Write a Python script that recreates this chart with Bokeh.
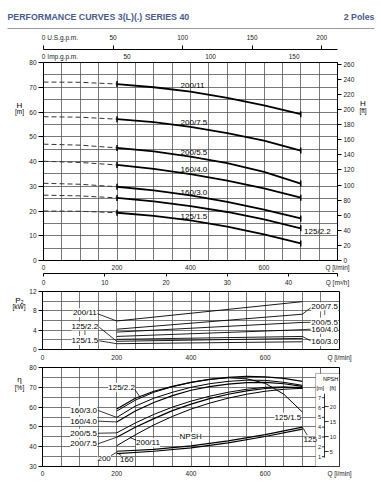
from bokeh.plotting import figure
from bokeh.models import Range1d, LinearAxis, FixedTicker, BoxAnnotation
from bokeh.layouts import column, row
from bokeh.embed import file_html
from bokeh.resources import INLINE
from bokeh.core.properties import value

# ---------------- data ----------------
Q_DASH = [0, 100, 200]
Q_SOLID = [200, 300, 400, 500, 600, 700]

H_200_11_DASH = [72.1, 72.0, 71.3]
H_200_11 = [71.3, 70.0, 68.2, 65.7, 62.7, 59.1]
H_200_75_DASH = [58.1, 57.9, 57.1]
H_200_75 = [57.1, 55.9, 54.0, 51.5, 48.4, 44.4]
H_200_55_DASH = [47.0, 46.6, 45.5]
H_200_55 = [45.5, 44.1, 42.0, 39.3, 35.8, 31.1]
H_160_40_DASH = [40.1, 39.6, 38.6]
H_160_40 = [38.6, 37.0, 34.9, 32.3, 29.1, 25.4]
H_160_30_DASH = [31.2, 30.8, 29.8]
H_160_30 = [29.8, 28.3, 26.3, 23.7, 20.6, 17.0]
H_125_22_DASH = [26.4, 26.1, 25.3]
H_125_22 = [25.3, 23.9, 22.0, 19.6, 16.6, 13.0]
H_125_15_DASH = [20.0, 19.9, 19.3]
H_125_15 = [19.3, 18.0, 16.2, 13.7, 10.6, 6.9]

Q_POWER = [200, 700]
P_200_11 = [5.9, 9.9]
P_200_75 = [4.2, 7.3]
P_200_55 = [3.6, 5.6]
P_160_40 = [2.7, 4.1]
P_160_30 = [2.1, 2.7]
P_125_22 = [1.7, 2.3]
P_125_15 = [1.2, 1.6]

Q_EFF = [200, 250, 300, 350, 400, 450, 500, 550, 600, 650, 700]
E_125_22 = [59.0, 64.5, 68.0, 70.5, 72.5, 74.0, 75.0, 75.5, 75.3, 74.5, 73.0]
E_125_15 = [58.0, 63.5, 67.5, 70.3, 72.5, 74.0, 74.8, 74.3, 72.0, 66.5, 57.5]
E_160_30 = [54.8, 60.5, 64.5, 67.5, 70.0, 71.8, 73.0, 73.6, 73.5, 72.5, 71.0]
E_160_40 = [52.5, 58.0, 62.3, 65.8, 68.5, 70.3, 71.6, 72.4, 72.5, 71.8, 70.5]
E_200_55 = [47.0, 52.0, 56.3, 60.0, 63.0, 65.5, 67.5, 69.0, 70.0, 70.2, 69.5]
E_200_75 = [44.8, 49.8, 54.2, 58.2, 61.5, 64.3, 66.5, 68.2, 69.4, 70.0, 70.0]
E_200_11 = [40.5, 46.0, 51.0, 55.3, 59.0, 62.0, 64.5, 66.5, 68.0, 69.0, 69.5]

Q_NPSH = [200, 300, 400, 500, 600, 700]
NPSH_UPPER = [1.55, 1.75, 2.1, 2.6, 3.25, 4.0]
NPSH_LOWER = [1.3, 1.55, 1.9, 2.4, 3.05, 3.8]

Q_TICKS = [0, 200, 400, 600]
H_TICKS = [0, 10, 20, 30, 40, 50, 60, 70, 80]
FT_TICKS = [0, 20, 40, 60, 80, 100, 120, 140, 160, 180, 200, 220, 240, 260]
US_TICKS = [0, 50, 100, 150, 200]
IMP_TICKS = [0, 50, 100, 150]
M3H_TICKS = [0, 10, 20, 30, 40]
P_TICKS = [0, 4, 8, 12]
E_TICKS = [30, 40, 50, 60, 70, 80]
NPSH_M_TICKS = [1, 2, 3, 4, 5, 6, 7]
NPSH_FT_TICKS = [5, 10, 15, 20]

TITLE = "PERFORMANCE CURVES 3(L)(.) SERIES 40"
POLES = "2 Poles"

# unit conversions
US_GPM = 3.785411784   # l/min per US gpm
IMP_GPM = 4.54609      # l/min per Imp gpm
M3H = 1000.0 / 60.0    # l/min per m3/h
FT = 3.28084           # ft per m

# ---------------- styling ----------------
FONT = "Liberation Sans, Arial, sans-serif"
BLUE = "#4a5a8c"
GRID = "#555555"
TICK_FS = "6.5px"
CURVE_FS = "8px"


def make_fig(width, height, y_range, left, right, top, bottom):
    p = figure(width=width, height=height, x_range=Range1d(0, 800), y_range=y_range,
               min_border_left=left, min_border_right=right, min_border_top=top,
               min_border_bottom=bottom, output_backend="svg", toolbar_location=None)
    p.outline_line_color = "black"
    p.outline_line_width = 1
    p.border_fill_color = "white"
    p.grid.grid_line_color = GRID
    p.grid.grid_line_width = 0.8
    p.xgrid.ticker = FixedTicker(ticks=list(range(0, 801, 50)))
    return p


def text_fig(width, height):
    f = figure(width=width, height=height, x_range=Range1d(0, width), y_range=Range1d(height, 0),
               min_border=0, x_axis_location=None, y_axis_location=None,
               output_backend="svg", toolbar_location=None)
    f.grid.visible = False
    f.outline_line_color = None
    f.border_fill_color = "white"
    return f


def style_axis(ax, ticks, tick_out=4, standoff=2, line=True, overrides=None, minor=None,
               size=TICK_FS):
    ax.ticker = FixedTicker(ticks=ticks, minor_ticks=minor or [])
    ax.major_label_text_font = FONT
    ax.major_label_text_font_size = size
    ax.major_label_text_color = "#1a1a1a"
    ax.minor_tick_line_color = None
    ax.major_tick_in = 0
    ax.major_tick_out = tick_out
    ax.major_tick_line_color = "black" if tick_out else None
    ax.axis_line_color = "black" if line else None
    ax.major_label_standoff = standoff
    if overrides:
        ax.major_label_overrides = overrides


def txt(p, x, y, s, size=CURVE_FS, align="center", bg=False, color="black",
        bold=False, y_range_name="default"):
    kw = dict(y_range_name=y_range_name, text_font=value(FONT), text_font_size=size,
              text_align=align, text_baseline="middle", text_color=color,
              text_font_style="bold" if bold else "normal")
    if bg:
        kw["background_fill_color"] = "white"
    p.text([x], [y], text=[s], **kw)


# ================= header =================
hdr = text_fig(381, 30)
txt(hdr, 7, 16.5, TITLE, size="8.8px", align="left", color=BLUE, bold=True)
txt(hdr, 374, 16.5, POLES, size="8.8px", align="right", color=BLUE, bold=True)
hdr.segment([7], [28], [374], [28], line_color="#9a9a9a", line_width=1)

# ================= Figure 1 : head =================
p1 = make_fig(331, 258, Range1d(0, 80), 15, 18, 32, 28)
p1.extra_y_ranges = {"ft": Range1d(0, 80 * FT)}
p1.extra_x_ranges = {"us": Range1d(0, 800 / US_GPM), "imp": Range1d(0, 800 / IMP_GPM),
                     "m3h": Range1d(0, 800 / M3H)}
p1.ygrid.ticker = FixedTicker(ticks=list(range(0, 81, 5)))

style_axis(p1.xaxis[0], Q_TICKS + [800], tick_out=0, standoff=3, line=False,
           overrides={800: "Q [l/min]"})
style_axis(p1.yaxis[0], H_TICKS, tick_out=5, standoff=2)

m3h_axis = LinearAxis(x_range_name="m3h")
style_axis(m3h_axis, M3H_TICKS + [48], tick_out=3, standoff=2, overrides={48: "Q [m³/h]"})
p1.add_layout(m3h_axis, "below")

imp_axis = LinearAxis(x_range_name="imp")
style_axis(imp_axis, IMP_TICKS + [11.5], tick_out=0, standoff=3, line=False,
           overrides={11.5: "Imp.g.p.m."})
p1.add_layout(imp_axis, "above")

us_axis = LinearAxis(x_range_name="us")
style_axis(us_axis, US_TICKS + [13.8], tick_out=0, standoff=5,
           overrides={13.8: "U.S.g.p.m."}, minor=US_TICKS)
us_axis.minor_tick_line_color = "black"
us_axis.minor_tick_out = 4
us_axis.minor_tick_in = 0
p1.add_layout(us_axis, "above")

ft_axis = LinearAxis(y_range_name="ft")
style_axis(ft_axis, FT_TICKS, tick_out=4, standoff=2)
p1.add_layout(ft_axis, "right")

head_curves = [
    ("200/11", H_200_11_DASH, H_200_11, 373, 70.9),
    ("200/7.5", H_200_75_DASH, H_200_75, 373, 55.8),
    ("200/5.5", H_200_55_DASH, H_200_55, 373, 43.6),
    ("160/4.0", H_160_40_DASH, H_160_40, 373, 36.8),
    ("160/3.0", H_160_30_DASH, H_160_30, 373, 27.3),
    ("125/2.2", H_125_22_DASH, H_125_22, 709, 11.7),
    ("125/1.5", H_125_15_DASH, H_125_15, 373, 17.7),
]
for name, hd, hs, lx, ly in head_curves:
    p1.line(Q_DASH, hd, line_dash="5 3", line_width=1, line_color="#333333")
    p1.line(Q_SOLID, hs, line_width=1.8, line_color="black")
    p1.scatter([Q_SOLID[0], Q_SOLID[-1]], [hs[0], hs[-1]], marker="dash", angle=1.5708,
               size=6, line_width=1.5, line_color="black")
    txt(p1, lx, ly, name, align="left")

left1 = text_fig(26, 258)
txt(left1, 19, 56, "H", size="8px")
txt(left1, 19, 63.5, "[m]", size="6.5px")
right1 = text_fig(24, 258)
txt(right1, 5.5, 53, "H", size="8px")
txt(right1, 5.5, 63, "[ft]", size="6.5px")

# ================= Figure 2 : power =================
p2 = make_fig(355, 75, Range1d(0, 12), 15, 42, 3, 12)
p2.ygrid.ticker = FixedTicker(ticks=list(range(0, 13, 2)))
style_axis(p2.xaxis[0], Q_TICKS + [800], tick_out=0, standoff=4, line=False,
           overrides={800: "Q [l/min]"})
style_axis(p2.yaxis[0], P_TICKS, tick_out=4, standoff=2)

for pw in [P_200_11, P_200_75, P_200_55, P_160_40, P_160_30, P_125_22, P_125_15]:
    p2.line(Q_POWER, pw, line_width=0.9, line_color="black")

p2.segment([148, 153, 153], [7.4, 4.6, 1.8], [Q_POWER[0]] * 3,
           [P_200_11[0], P_125_22[0], P_125_15[0]], line_color="black", line_width=0.8)
txt(p2, 114, 7.6, "200/11", bg=True)
txt(p2, 114, 4.86, "125/2.2", bg=True)
txt(p2, 114, 3.5, "I", size="6.5px", bg=True)
txt(p2, 114, 1.86, "125/1.5", bg=True)
p2.segment([Q_POWER[1]] * 4, [P_200_75[1], P_200_55[1], P_160_40[1], P_160_30[1]],
           [722, 722, 722, 722], [8.6, 5.62, 4.2, 1.8], line_color="black", line_width=0.8)
txt(p2, 760, 8.86, "200/7.5", bg=True)
txt(p2, 760, 7.6, "I", size="6.5px", bg=True)
txt(p2, 760, 5.66, "200/5.5", bg=True)
txt(p2, 760, 4.2, "160/4.0", bg=True)
txt(p2, 760, 1.66, "160/3.0", bg=True)

left2 = text_fig(26, 75)
txt(left2, 19, 12, "P₂", size="8px")
txt(left2, 18.5, 20, "[kW]", size="6.5px")

# ================= Figure 3 : efficiency + NPSH =================
p3 = make_fig(355, 121, Range1d(30, 80), 15, 42, 4, 18)
NPSH_TOP = 99 / 9.83
p3.extra_y_ranges = {"npsh": Range1d(0, NPSH_TOP), "npsh_ft": Range1d(0, NPSH_TOP * FT)}
p3.ygrid.ticker = FixedTicker(ticks=list(range(30, 81, 5)))
style_axis(p3.xaxis[0], Q_TICKS + [800], tick_out=0, standoff=3, line=False,
           overrides={800: "Q [l/min]"})
style_axis(p3.yaxis[0], E_TICKS, tick_out=4, standoff=2)

p3.add_layout(BoxAnnotation(left=735.6, right=800, bottom=30, top=77, fill_color="white",
                            fill_alpha=1, line_color="black", line_width=1, level="underlay"))

for e, w in [(E_125_22, 1.2), (E_125_15, 1.0), (E_160_30, 1.0), (E_160_40, 1.2),
             (E_200_55, 1.0), (E_200_75, 1.2), (E_200_11, 1.0)]:
    p3.line(Q_EFF, e, line_width=w, line_color="black")
for n in [NPSH_UPPER, NPSH_LOWER]:
    p3.line(Q_NPSH, n, y_range_name="npsh", line_width=1.2, line_color="black")

# NPSH scale inside the box
p3.segment([759.6], [0.9], [759.6], [7.4], y_range_name="npsh", line_color="black",
           line_width=0.8)
p3.segment([752.6] * len(NPSH_M_TICKS), NPSH_M_TICKS, [759.6] * len(NPSH_M_TICKS),
           NPSH_M_TICKS, y_range_name="npsh", line_color="black", line_width=0.8)
p3.segment([759.6] * len(NPSH_FT_TICKS), NPSH_FT_TICKS, [770.9] * len(NPSH_FT_TICKS),
           NPSH_FT_TICKS, y_range_name="npsh_ft", line_color="black", line_width=0.8)
p3.text([750.5] * len(NPSH_M_TICKS), NPSH_M_TICKS, text=[str(t) for t in NPSH_M_TICKS],
        y_range_name="npsh", text_font=value(FONT), text_font_size="5.5px",
        text_align="right", text_baseline="middle", text_color="#1a1a1a")
p3.text([774] * len(NPSH_FT_TICKS), NPSH_FT_TICKS, text=[str(t) for t in NPSH_FT_TICKS],
        y_range_name="npsh_ft", text_font=value(FONT), text_font_size="5.5px",
        text_align="left", text_baseline="middle", text_color="#1a1a1a")
txt(p3, 776, 8.92, "NPSH", size="5.5px", y_range_name="npsh")
txt(p3, 748, 8.0, "[m]", size="5.5px", y_range_name="npsh")
txt(p3, 782, 8.0, "[ft]", size="5.5px", y_range_name="npsh")

p3.segment([248], [69.0], [262], [65.3], line_color="black", line_width=0.8)
txt(p3, 213, 70.0, "125/2.2", bg=True)
p3.segment([150, 150, 150, 150], [58.3, 52.9, 46.8, 41.5], [Q_EFF[0]] * 4,
           [E_160_30[0], E_160_40[0], E_200_55[0], E_200_75[0]], line_color="black",
           line_width=0.8)
txt(p3, 111, 58.3, "160/3.0", bg=True)
txt(p3, 111, 52.9, "160/4.0", bg=True)
txt(p3, 111, 46.8, "200/5.5", bg=True)
txt(p3, 111, 41.5, "200/7.5", bg=True)
p3.segment([256], [43.0], [236], [44.6], line_color="black", line_width=0.8)
txt(p3, 284, 42.0, "200/11", bg=True)
txt(p3, 399, 45.0, "NPSH", bg=True)
txt(p3, 697, 54.9, "125/1.5", align="right", bg=True)
p3.segment([Q_NPSH[-1]], [NPSH_UPPER[-1]], [713], [3.2], y_range_name="npsh",
           line_color="black", line_width=0.8)
txt(p3, 721, 2.78, "125", y_range_name="npsh", bg=True)
p3.segment([185, 212], [1.12, 1.12], [Q_NPSH[0], Q_NPSH[0] + 2],
           [NPSH_UPPER[0] - 0.1, NPSH_LOWER[0] + 0.1], y_range_name="npsh",
           line_color="black", line_width=0.8)
txt(p3, 166, 0.81, "200", y_range_name="npsh", bg=True)
txt(p3, 227, 0.71, "160", y_range_name="npsh", bg=True)

left3 = text_fig(26, 121)
txt(left3, 19, 15, "η", size="8px")
txt(left3, 19, 24, "[%]", size="6.5px")

layout = column(hdr, row(left1, p1, right1, spacing=0), row(left2, p2, spacing=0),
                row(left3, p3, spacing=0), spacing=0)
open("out.html", "w").write(file_html(layout, INLINE))
